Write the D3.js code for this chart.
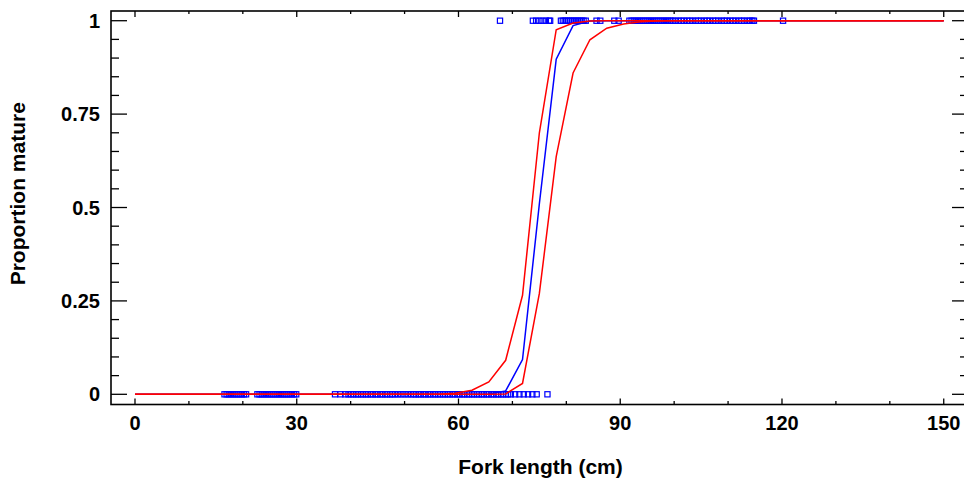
<!DOCTYPE html>
<html>
<head>
<meta charset="utf-8">
<script src="https://cdn.jsdelivr.net/npm/d3@7"></script>
<style>
  body { margin: 0; background: #fff; }
  text { font-family: "Liberation Sans", Arial, sans-serif; font-weight: bold; fill: #000; }
</style>
</head>
<body>
<svg id="chart" width="964" height="484"></svg>
<script>
// Fitted maturity ogive + confidence band, evaluated on a 3.125 cm grid
var gridX = [0, 3.125, 6.25, 9.375, 12.5, 15.625, 18.75, 21.875, 25, 28.125, 31.25, 34.375,
  37.5, 40.625, 43.75, 46.875, 50, 53.125, 56.25, 59.375, 62.5, 65.625, 68.75, 71.875,
  75, 78.125, 81.25, 84.375, 87.5, 90.625, 93.75, 96.875, 100, 103.125, 106.25, 109.375,
  112.5, 115.625, 118.75, 121.875, 125, 128.125, 131.25, 134.375, 137.5, 140.625, 143.75,
  146.875, 150];
var fitted = [0, 0, 0, 0, 0, 0, 0, 0, 0, 0, 0, 0, 0, 0, 0, 0, 0, 0, 0, 0, 0, 0.001, 0.009, 0.093,
  0.51, 0.897, 0.987, 0.999, 1, 1, 1, 1, 1, 1, 1, 1, 1, 1, 1, 1, 1, 1, 1, 1, 1, 1, 1, 1, 1];
var upperCI = [0, 0, 0, 0, 0, 0, 0, 0, 0, 0, 0, 0, 0, 0, 0, 0, 0, 0, 0, 0.003, 0.011, 0.033, 0.091, 0.265,
  0.70, 0.976, 0.994, 0.999, 1, 1, 1, 1, 1, 1, 1, 1, 1, 1, 1, 1, 1, 1, 1, 1, 1, 1, 1, 1, 1];
var lowerCI = [0, 0, 0, 0, 0, 0, 0, 0, 0, 0, 0, 0, 0, 0, 0, 0, 0, 0, 0, 0, 0, 0, 0.001, 0.029,
  0.27, 0.636, 0.86, 0.949, 0.98, 0.991, 0.997, 0.999, 1, 1, 1, 1, 1, 1, 1, 1, 1, 1, 1, 1, 1, 1, 1, 1, 1];

// Observed fish (fork length, cm)
var immatureFL = [16.6, 17.0, 17.4, 17.8, 18.2, 18.6, 19.0, 19.4, 19.8, 20.2, 20.6,
  22.7, 23.1, 23.5, 23.9, 24.3, 24.7, 25.1, 25.5, 25.9, 26.3, 26.7, 27.1, 27.5, 27.9,
  28.3, 28.7, 29.1, 29.5, 29.9,
  37.1, 38.1, 39.0, 39.6, 40.1, 40.5, 41.0, 41.4, 41.9, 42.3, 42.8, 43.2, 43.7, 44.1,
  44.6, 45.0, 45.5, 45.9, 46.4, 46.8, 47.3, 47.7, 48.2, 48.8, 49.4, 50.0, 50.6, 51.2,
  51.7, 52.1, 52.6, 53.0, 53.5, 53.9, 54.4, 54.8, 55.3, 55.7, 56.2, 56.6, 57.1, 57.5,
  58.0, 58.4, 58.9, 59.3, 59.8, 60.2, 60.7, 61.1, 61.6, 62.0, 62.5, 62.9, 63.4, 63.8,
  64.3, 64.7, 65.2, 65.6, 66.1, 66.5, 67.0, 67.4, 67.9, 68.3, 68.8, 69.2, 69.7, 70.5,
  71.3, 72.1, 72.9, 73.7, 74.5,
  76.5];
var matureFL = [67.7,
  73.8, 74.4, 75.0, 75.6, 76.2, 76.8, 77.0,
  79.0, 79.35, 79.7, 80.05, 80.4, 80.75, 81.1, 81.45, 81.8, 82.15, 82.5, 82.85, 83.2, 83.6,
  85.6, 86.3, 88.9, 89.7,
  91.7, 92.1, 92.5, 92.9, 93.3, 93.7, 94.1, 94.5, 94.9, 95.3, 95.7, 96.1, 96.5, 96.9,
  97.3, 97.7, 98.1, 98.5, 98.9, 99.3, 99.7, 100.2, 100.8, 101.3, 101.8, 102.4, 102.9,
  103.4, 104.0, 104.5, 105.0, 105.6, 106.1, 106.6, 107.2, 107.7, 108.2, 108.8, 109.3,
  109.8, 110.4, 110.9, 111.4, 112.0, 112.5, 113.0, 113.6, 114.1, 114.5, 114.8,
  120.2];

var xMajor = [0, 30, 60, 90, 120, 150];
var xMinor = [10, 20, 40, 50, 70, 80, 100, 110, 130, 140];
var yMajor = [0, 0.25, 0.5, 0.75, 1];
var yMinor = [0.05, 0.1, 0.15, 0.2, 0.3, 0.35, 0.4, 0.45, 0.55, 0.6, 0.65, 0.7, 0.8, 0.85, 0.9, 0.95];

var margin = {top: 11, right: -4, bottom: 79.5, left: 111};
var width = 964 - margin.left - margin.right;
var height = 484 - margin.top - margin.bottom;

var svg = d3.select("#chart")
  .append("g")
    .attr("transform", "translate(" + margin.left + "," + margin.top + ")");

var x = d3.scaleLinear()
  .domain([-4.45, 154.5])
  .range([0, width]);
var y = d3.scaleLinear()
  .domain([-0.0273, 1.026])
  .range([height, 0]);

// tick marks pointing into the plot, on all four sides
function ticks(g, vals, len, side) {
  g.selectAll(null)
    .data(vals)
    .enter().append("line")
      .attr("x1", function(d) { return side == "left" ? 0 : side == "right" ? width : x(d); })
      .attr("x2", function(d) { return side == "left" ? len : side == "right" ? width - len : x(d); })
      .attr("y1", function(d) { return side == "top" ? 0 : side == "bottom" ? height : y(d); })
      .attr("y2", function(d) { return side == "top" ? len : side == "bottom" ? height - len : y(d); })
      .attr("stroke", "#000")
      .attr("stroke-width", 1.3);
}

var axes = svg.append("g").attr("class", "axes");
ticks(axes, yMajor, 16, "left");
ticks(axes, yMinor, 8, "left");
ticks(axes, yMajor, 16, "right");
ticks(axes, yMinor, 8, "right");
ticks(axes, xMajor, 6, "top");
ticks(axes, xMinor, 3, "top");
ticks(axes, xMajor, 6, "bottom");
ticks(axes, xMinor, 3.5, "bottom");

axes.append("rect")
  .attr("width", width)
  .attr("height", height)
  .attr("fill", "none")
  .attr("stroke", "#000")
  .attr("stroke-width", 1.6);

axes.selectAll("text.ylab")
  .data(yMajor)
  .enter().append("text")
    .attr("class", "ylab")
    .attr("text-anchor", "end")
    .attr("x", -11)
    .attr("y", function(d) { return y(d) + 7; })
    .style("font-size", "20px")
    .text(function(d) { return d; });

axes.selectAll("text.xlab")
  .data(xMajor)
  .enter().append("text")
    .attr("class", "xlab")
    .attr("text-anchor", "middle")
    .attr("x", function(d) { return x(d); })
    .attr("y", height + 25)
    .style("font-size", "20px")
    .text(function(d) { return d; });

svg.append("text")
  .attr("text-anchor", "middle")
  .attr("x", width / 2 + 1)
  .attr("y", height + 69)
  .style("font-size", "21px")
  .text("Fork length (cm)");

svg.append("text")
  .attr("text-anchor", "middle")
  .attr("transform", "translate(" + (-86) + "," + (height / 2 - 14) + ") rotate(-90)")
  .style("font-size", "21px")
  .text("Proportion mature");

// observations
var pts = svg.append("g").attr("class", "points");
[[immatureFL, 0], [matureFL, 1]].forEach(function(s) {
  pts.selectAll(null)
    .data(s[0])
    .enter().append("rect")
      .attr("x", function(d) { return x(d) - 2.6; })
      .attr("y", y(s[1]) - 2.6)
      .attr("width", 5.2)
      .attr("height", 5.2)
      .attr("fill", "none")
      .attr("stroke", "#0000ff")
      .attr("stroke-width", 1.2);
});

var line = function(vals) {
  return d3.line()
    .x(function(d, i) { return x(gridX[i]); })
    .y(function(d) { return y(d); })(vals);
};

svg.append("path")
  .attr("d", line(fitted))
  .attr("fill", "none")
  .attr("stroke", "#0000ff")
  .attr("stroke-width", 1.5);

svg.selectAll("path.ci")
  .data([upperCI, lowerCI])
  .enter().append("path")
    .attr("class", "ci")
    .attr("d", function(d) { return line(d); })
    .attr("fill", "none")
    .attr("stroke", "#ff0000")
    .attr("stroke-width", 1.5);
</script>
</body>
</html>
